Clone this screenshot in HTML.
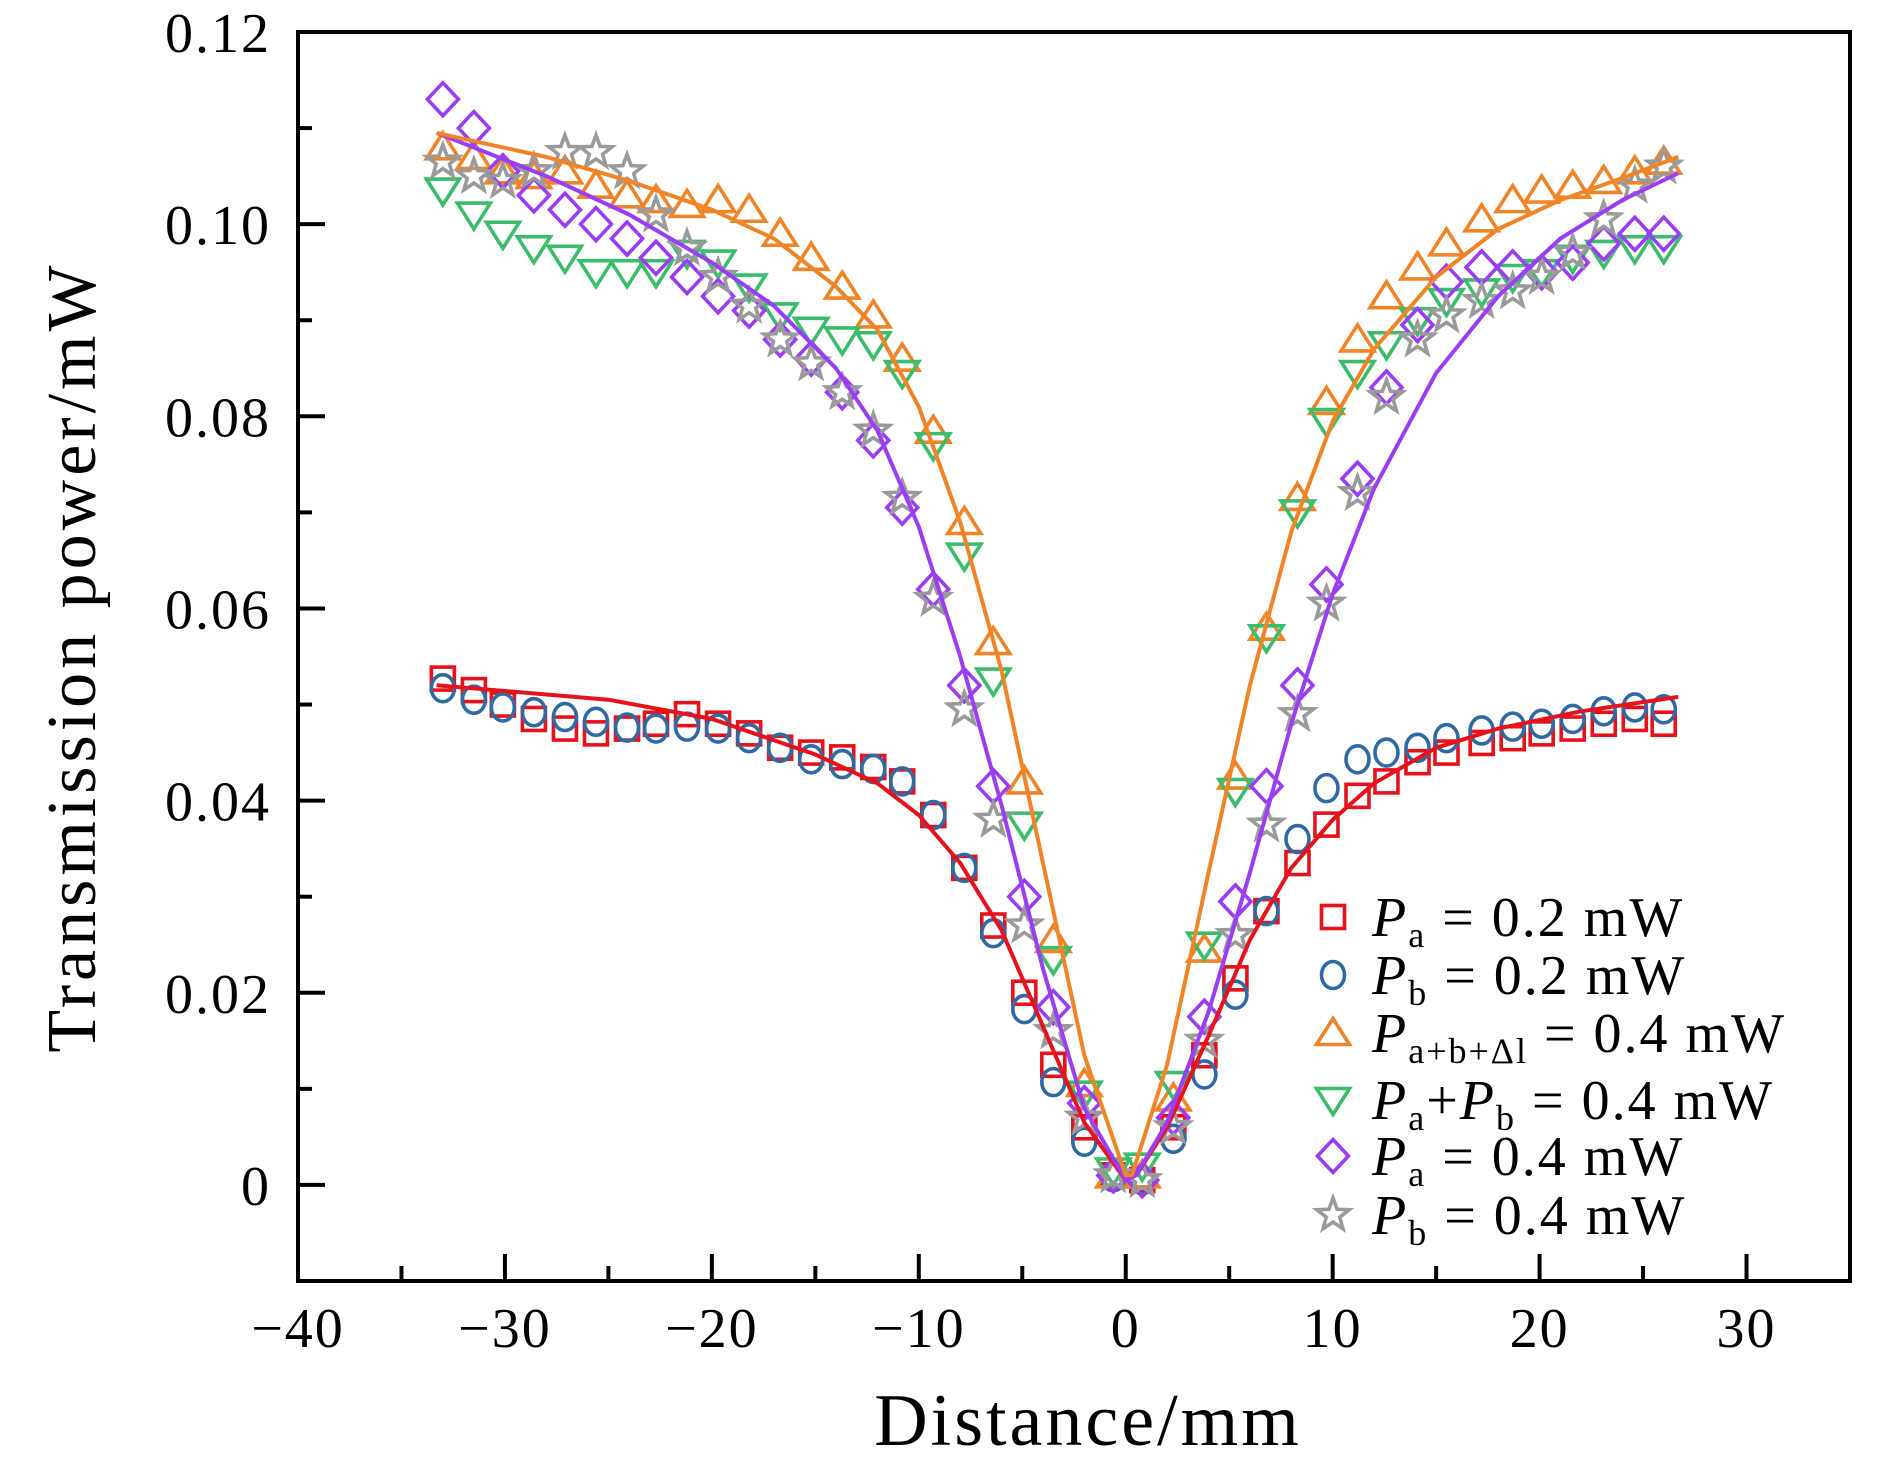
<!DOCTYPE html>
<html><head><meta charset="utf-8">
<style>
html,body{margin:0;padding:0;background:#fff;}
svg{display:block;}
text{font-family:"Liberation Serif","DejaVu Serif",serif;fill:#000;}
</style></head>
<body>
<svg id="chart" width="1890" height="1465" viewBox="0 0 1890 1465" xmlns="http://www.w3.org/2000/svg">
<rect x="0" y="0" width="1890" height="1465" fill="#fff"/>
<g id="marks"></g>
<g id="axes"></g>
<g id="legend"></g>
<text x="1088" y="1445" font-size="74" text-anchor="middle" letter-spacing="3">Distance/mm</text>
<text transform="translate(95,657) rotate(-90)" font-size="70" text-anchor="middle" letter-spacing="4">Transmission power/mW</text>
</svg>
<script>
const xValues=[-33.0,-31.5,-30.1,-28.6,-27.1,-25.6,-24.1,-22.7,-21.2,-19.7,-18.2,-16.7,-15.2,-13.7,-12.2,-10.8,-9.3,-7.8,-6.4,-4.9,-3.5,-2.0,-0.6,0.8,2.3,3.8,5.3,6.8,8.3,9.7,11.2,12.6,14.1,15.5,17.2,18.7,20.1,21.6,23.1,24.6,26.0];
const paLow=[0.0527,0.0515,0.050,0.0485,0.0475,0.047,0.0475,0.048,0.049,0.048,0.047,0.0455,0.045,0.0445,0.0435,0.042,0.0385,0.033,0.027,0.020,0.0125,0.006,0.001,0.0005,0.006,0.0135,0.0215,0.0285,0.0335,0.0375,0.0405,0.042,0.044,0.045,0.046,0.0465,0.047,0.0475,0.048,0.0485,0.048];
const pbLow=[0.0517,0.0505,0.0497,0.0492,0.0487,0.0482,0.0476,0.0475,0.0477,0.0475,0.0465,0.0455,0.0443,0.0438,0.0433,0.042,0.0385,0.033,0.0262,0.0183,0.0107,0.0045,0.0008,0.0005,0.0048,0.0115,0.0198,0.0285,0.036,0.0413,0.0443,0.045,0.0455,0.0465,0.0473,0.0477,0.048,0.0485,0.0493,0.0497,0.0495];
const pabl=[0.108,0.107,0.1055,0.105,0.1055,0.104,0.103,0.1025,0.102,0.1025,0.1015,0.099,0.0965,0.0935,0.0905,0.086,0.0785,0.069,0.0565,0.042,0.0255,0.0105,0.001,0.001,0.009,0.0245,0.0425,0.058,0.0715,0.0815,0.088,0.0925,0.0955,0.098,0.1005,0.1025,0.1035,0.104,0.1045,0.1055,0.1065];
const paPlusPb=[0.1035,0.101,0.099,0.0975,0.0965,0.095,0.095,0.095,0.097,0.096,0.0935,0.0905,0.089,0.088,0.0875,0.0845,0.077,0.0655,0.0525,0.0375,0.0235,0.0095,0.0015,0.002,0.0105,0.025,0.041,0.057,0.07,0.0795,0.0845,0.0875,0.09,0.092,0.093,0.0945,0.095,0.0965,0.097,0.0975,0.0975];
const paHigh=[0.113,0.11,0.1055,0.103,0.1015,0.100,0.0985,0.0965,0.0945,0.0925,0.091,0.088,0.086,0.0825,0.0775,0.0705,0.062,0.052,0.0415,0.030,0.0185,0.0085,0.001,0.0005,0.007,0.0175,0.0295,0.0415,0.052,0.0625,0.0735,0.083,0.0895,0.094,0.0955,0.0955,0.095,0.096,0.098,0.099,0.099];
const pbHigh=[0.1065,0.105,0.1045,0.1055,0.1075,0.1075,0.1055,0.101,0.0975,0.0945,0.0915,0.088,0.0855,0.0825,0.0785,0.0715,0.061,0.0495,0.038,0.027,0.016,0.007,0.001,0.0005,0.006,0.015,0.026,0.0375,0.049,0.0605,0.072,0.082,0.088,0.0905,0.092,0.093,0.0945,0.097,0.1005,0.104,0.106];
const fitRedX=[-33.3,-25,-20,-15,-12,-10,-8,-6,-4,-2,0,0.5,2,4,6,8,10,12,15,18,22,26.7];
const fitRedY=[0.052,0.0505,0.0485,0.0448,0.0418,0.0385,0.0335,0.0265,0.0165,0.0065,0.0005,0.001,0.006,0.0155,0.0255,0.033,0.038,0.0418,0.0455,0.0475,0.0493,0.0508];
const fitOrangeX=[-33.3,-28,-24,-20,-17,-14,-12,-10,-8,-6,-4,-2,0,0.3,2,4,6,8,10,12,15,18,21,24,26.7];
const fitOrangeY=[0.1095,0.107,0.1045,0.1015,0.0985,0.0935,0.089,0.081,0.069,0.0535,0.0335,0.0135,0.001,0.001,0.0125,0.0325,0.052,0.068,0.0795,0.087,0.0945,0.0995,0.1025,0.1048,0.107];
const fitPurpleX=[-33.3,-28,-24,-20,-17,-14,-12,-10,-8,-6,-4,-2,0,0.5,2,4,6,8,10,12,15,18,21,24,26.7];
const fitPurpleY=[0.1095,0.105,0.101,0.096,0.0915,0.085,0.0785,0.0685,0.055,0.0395,0.0225,0.008,0.0005,0.001,0.0065,0.018,0.0325,0.048,0.0615,0.0725,0.0845,0.0925,0.0985,0.1025,0.1053];
const xTicks=[-40,-30,-20,-10,0,10,20,30];
const xTickLabels=["\u221240","\u221230","\u221220","\u221210","0","10","20","30"];
const yTicks=[0,0.02,0.04,0.06,0.08,0.10,0.12];
const yTickLabels=["0","0.02","0.04","0.06","0.08","0.10","0.12"];

const NS="http://www.w3.org/2000/svg";
const L=298,R=1850,T=32,B=1281,XMIN=-40,XMAX=35,YMIN=-0.01,YMAX=0.12;
function sx(v){return L+(v-XMIN)/(XMAX-XMIN)*(R-L);}
function sy(v){return B-(v-YMIN)/(YMAX-YMIN)*(B-T);}
function mk(tag,attrs,parent){const e=document.createElementNS(NS,tag);for(const k in attrs)e.setAttribute(k,attrs[k]);parent.appendChild(e);return e;}
const marks=document.getElementById('marks'),axes=document.getElementById('axes'),legend=document.getElementById('legend');
const SW=3.6;
function marker(type,cx,cy,color,parent){
  let e;const s=13.5;
  if(type==='square'){e=mk('rect',{x:cx-s+2,y:cy-s+2,width:2*s-4,height:2*s-4,fill:'none',stroke:color,'stroke-width':SW},parent);}
  else if(type==='circle'){e=mk('ellipse',{cx:cx,cy:cy,rx:s-2,ry:s,fill:'none',stroke:color,'stroke-width':SW},parent);}
  else if(type==='up'){e=mk('polygon',{points:`${cx},${cy-s-1} ${cx+s+3},${cy+s-2} ${cx-s-3},${cy+s-2}`,fill:'none',stroke:color,'stroke-width':SW},parent);}
  else if(type==='down'){e=mk('polygon',{points:`${cx},${cy+s+1} ${cx+s+3},${cy-s+2} ${cx-s-3},${cy-s+2}`,fill:'none',stroke:color,'stroke-width':SW},parent);}
  else if(type==='diamond'){e=mk('polygon',{points:`${cx},${cy-s-3} ${cx+s+2},${cy} ${cx},${cy+s+3} ${cx-s-2},${cy}`,fill:'none',stroke:color,'stroke-width':SW},parent);}
  else{let p=[];for(let i=0;i<10;i++){const r=i%2?7:17;const a=-Math.PI/2+i*Math.PI/5;p.push((cx+r*Math.cos(a)).toFixed(1)+','+(cy+r*Math.sin(a)).toFixed(1));}
    e=mk('polygon',{points:p.join(' '),fill:'none',stroke:color,'stroke-width':SW},parent);}
  return e;
}
const series=[
 {name:'pa-0.2',vals:paLow,type:'square',color:'#e8111c'},
 {name:'pb-0.2',vals:pbLow,type:'circle',color:'#2f6aa3'},
 {name:'pabl-0.4',vals:pabl,type:'up',color:'#f28428'},
 {name:'pa-plus-pb-0.4',vals:paPlusPb,type:'down',color:'#3bbd6c'},
 {name:'pa-0.4',vals:paHigh,type:'diamond',color:'#9a3df5'},
 {name:'pb-0.4',vals:pbHigh,type:'star',color:'#9a9a9a'}
];
series.forEach(s=>{
  const g=mk('g',{},marks);
  
  
  s.vals.forEach((v,i)=>{
    const m=marker(s.type,sx(xValues[i]),sy(v),s.color,g);
    
    
  });
});
function fitLine(xs,ys,color,name){
  const d=xs.map((x,i)=>(i?'L':'M')+sx(x).toFixed(1)+','+sy(ys[i]).toFixed(1)).join(' ');
  const p=mk('path',{d:d,fill:'none',stroke:color,'stroke-width':4,'stroke-linejoin':'round'},marks);
  
  
}
fitLine(fitRedX,fitRedY,'#e8111c','fit-line-low');
fitLine(fitPurpleX,fitPurpleY,'#9a3df5','fit-line-pa-high');
fitLine(fitOrangeX,fitOrangeY,'#f28428','fit-line-pabl');

const frame=mk('rect',{x:L,y:T,width:R-L,height:B-T,fill:'none',stroke:'#000','stroke-width':4},axes);


xTicks.forEach((v,i)=>{
  const x=sx(v);
  const t=mk('line',{x1:x,y1:B,x2:x,y2:B-27,stroke:'#000','stroke-width':4},axes);
  
  
  const lb=mk('text',{x:x,y:B+66,'font-size':56,'text-anchor':'middle','letter-spacing':2},axes);
  lb.textContent=xTickLabels[i];
  
  
  if(v+5<XMAX){const mx=sx(v+5);const m=mk('line',{x1:mx,y1:B,x2:mx,y2:B-15,stroke:'#000','stroke-width':4},axes);
    
    }
});
yTicks.forEach((v,i)=>{
  const y=sy(v);
  const t=mk('line',{x1:L,y1:y,x2:L+27,y2:y,stroke:'#000','stroke-width':4},axes);
  
  
  const lb=mk('text',{x:271,y:y+20,'font-size':56,'text-anchor':'end','letter-spacing':2},axes);
  lb.textContent=yTickLabels[i];
  
  
  const my=sy(v-0.01);
  if(v-0.01>YMIN){const m=mk('line',{x1:L,y1:my,x2:L+14,y2:my,stroke:'#000','stroke-width':4},axes);
    
    }
});
const legendRows=[
 {type:'square',color:'#e8111c',sub:'a',rest:' = 0.2 mW'},
 {type:'circle',color:'#2f6aa3',sub:'b',rest:' = 0.2 mW'},
 {type:'up',color:'#f28428',sub:'a+b+\u0394l',rest:' = 0.4 mW'},
 {type:'down',color:'#3bbd6c',sub:'a',rest:' + ',extra:true},
 {type:'diamond',color:'#9a3df5',sub:'a',rest:' = 0.4 mW'},
 {type:'star',color:'#9a9a9a',sub:'b',rest:' = 0.4 mW'}
];
const rowY=[917,975,1033,1100,1156,1215];
legendRows.forEach((r,i)=>{
  const g=mk('g',{},legend);
  
  
  marker(r.type,1333,rowY[i],r.color,g);
  const t=mk('text',{x:1372,y:rowY[i]+19,'font-size':56,'letter-spacing':2},g);
  let html='<tspan font-style="italic">P</tspan><tspan font-size="36" dy="11">'+r.sub+'</tspan>';
  if(r.extra){html+='<tspan dy="-11">+</tspan><tspan font-style="italic">P</tspan><tspan font-size="36" dy="11">b</tspan><tspan dy="-11"> = 0.4 mW</tspan>';}
  else html+='<tspan dy="-11">'+r.rest+'</tspan>';
  t.innerHTML=html;
});
</script>
</body></html>
